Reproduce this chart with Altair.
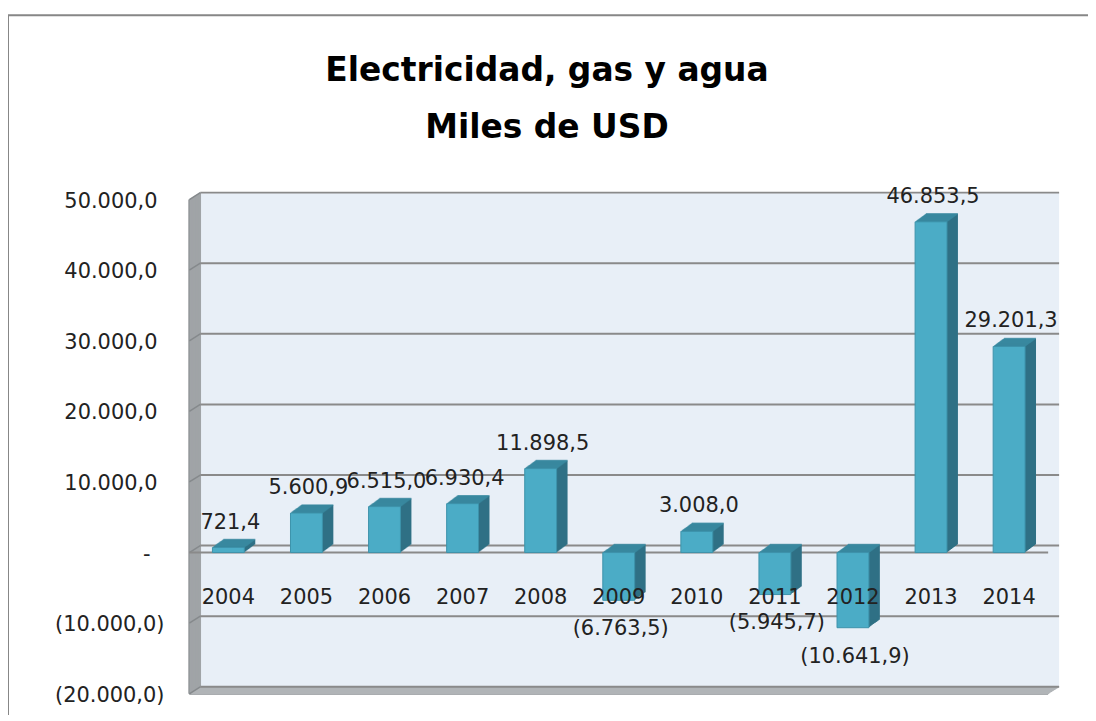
import altair as alt
import pandas as pd

# ---------------- data ----------------
years = ["2004", "2005", "2006", "2007", "2008", "2009", "2010", "2011", "2012", "2013", "2014"]
values = [721.4, 5600.9, 6515.0, 6930.4, 11898.5, -6763.5, 3008.0, -5945.7, -10641.9, 46853.5, 29201.3]
value_labels = ["721,4", "5.600,9", "6.515,0", "6.930,4", "11.898,5", "(6.763,5)",
                "3.008,0", "(5.945,7)", "(10.641,9)", "46.853,5", "29.201,3"]
tick_values = [-20000, -10000, 0, 10000, 20000, 30000, 40000, 50000]
tick_labels = ["(20.000,0)", "(10.000,0)", "-", "10.000,0", "20.000,0",
               "30.000,0", "40.000,0", "50.000,0"]
title_lines = ["Electricidad, gas y agua", "Miles de USD"]

df = pd.DataFrame({"year": years, "value": values, "label": value_labels})
ticks_df = pd.DataFrame({"tick": tick_values, "label": tick_labels})
one = pd.DataFrame({"d": [0]})

# ---------------- style ----------------
W, H = 862, 496          # front plane of the plot box
DX, DY = 11, 7           # wall depth (px)
BDX, BDY = 11, 8         # bar depth (px)
FONT = "DejaVu Sans"
TXT = "#222222"
FRONT = "#4bacc6"
SIDE = "#2f7085"
TOP = "#3b8ba2"
WALL = "#e8eff7"
GRID = "#8a8a8a"
SIDEWALL = "#a0a4a7"
FLOOR = "#b1b4b7"

yscale = alt.Scale(domain=[-20000, 50000], nice=False, zero=False)
xscale = alt.Scale(domain=years, paddingInner=0, paddingOuter=0)
X = alt.X("year:N", scale=xscale, axis=None, sort=years)


def Yq(field):
    return alt.Y(field, scale=yscale, axis=None)


layers = []

# outer frame
layers.append(alt.Chart(one).mark_rect(fillOpacity=0, stroke="#878787", strokeWidth=2).encode(
    x=alt.value(-182), y=alt.value(-185), x2=alt.value(3000), y2=alt.value(3000)))

# back wall
layers.append(alt.Chart(one).mark_rect(color=WALL).encode(
    x=alt.value(DX), x2=alt.value(W + DX), y=alt.value(-DY), y2=alt.value(H - DY)))

# floor (staircase of rules)
for k in range(0, DX + 1):
    layers.append(alt.Chart(one).mark_rule(color=FLOOR if k > 0 else "#8d9194",
                                           strokeWidth=1.5 if k > 0 else 2).encode(
        y=alt.value(H - k * DY / DX), x=alt.value(k), x2=alt.value(W + k)))

# left side wall
for k in range(0, DX + 1):
    layers.append(alt.Chart(one).mark_rule(color=SIDEWALL if k > 0 else "#8d9194",
                                           strokeWidth=1.5 if k > 0 else 2).encode(
        x=alt.value(k), y=alt.value(-k * DY / DX), y2=alt.value(H - k * DY / DX)))

# gridlines on the back wall
layers.append(alt.Chart(ticks_df).mark_rule(color=GRID, strokeWidth=2, yOffset=-DY, y2Offset=-DY).encode(
    y=Yq("tick:Q"), x=alt.value(DX), x2=alt.value(W + DX)))
# gridlines on the side wall (slanted)
layers.append(alt.Chart(ticks_df).mark_rule(color="#85898c", strokeWidth=1.5, y2Offset=-DY).encode(
    y=Yq("tick:Q"), y2=alt.Y2("tick:Q"), x=alt.value(0), x2=alt.value(DX)))

# front zero line
layers.append(alt.Chart(one).mark_rule(color=GRID, strokeWidth=2).encode(
    y=alt.Y(datum=0, scale=yscale, axis=None), x=alt.value(0), x2=alt.value(W)))

# y tick labels (accounting style alignment)
for cond, xpos in [("datum.tick > 0", -32), ("datum.tick == 0", -39), ("datum.tick < 0", -25)]:
    layers.append(alt.Chart(ticks_df).transform_filter(cond).mark_text(
        font=FONT, fontSize=21, color=TXT, align="right", yOffset=2).encode(
        y=Yq("tick:Q"), x=alt.value(xpos), text="label:N"))

# bars: extrusion (side)
for k in range(1, BDX + 1):
    off = -k * BDY / BDX
    layers.append(alt.Chart(df).mark_bar(size=32, color=SIDE, xOffset=k, yOffset=off, y2Offset=off).encode(
        x=X, y=Yq("value:Q"), y2=alt.datum(0)))
# bars: top face
for k in range(1, BDX + 1):
    off = -k * BDY / BDX
    layers.append(alt.Chart(df).transform_calculate(top="max(datum.value, 0)").mark_tick(
        size=32, thickness=1.6, color=TOP, xOffset=k, yOffset=off).encode(
        x=X, y=Yq("top:Q")))
# bars: front face
layers.append(alt.Chart(df).mark_bar(size=32, color=FRONT, stroke="#3d93ab", strokeWidth=1).encode(
    x=X, y=Yq("value:Q"), y2=alt.datum(0)))

# category labels at the zero line
layers.append(alt.Chart(df).mark_text(font=FONT, fontSize=21, color=TXT, yOffset=46).encode(
    x=X, y=alt.Y(datum=0, scale=yscale, axis=None), text="year:N"))

# value labels
layers.append(alt.Chart(df).transform_filter("datum.value >= 0").mark_text(
    font=FONT, fontSize=21, color=TXT, yOffset=-25, dx=2).encode(
    x=X, y=Yq("value:Q"), text="label:N"))
layers.append(alt.Chart(df).transform_filter("datum.value < 0").mark_text(
    font=FONT, fontSize=21, color=TXT, yOffset=29, dx=2).encode(
    x=X, y=Yq("value:Q"), text="label:N"))

# title
for i, line in enumerate(title_lines):
    layers.append(alt.Chart(one).mark_text(font=FONT, fontSize=33, fontWeight="bold", color="#000000",
                                           baseline="alphabetic", align="center").encode(
        x=alt.value(359), y=alt.value(-119 + 57 * i), text=alt.value(line)))

chart = alt.layer(*layers).properties(
    width=W, height=H,
    autosize=alt.AutoSizeParams(type="none"),
    padding={"left": 182, "top": 191, "right": 40, "bottom": 20},
).configure_view(strokeWidth=0)

chart.save("out.html", embed_options={"renderer": "svg", "actions": False})
